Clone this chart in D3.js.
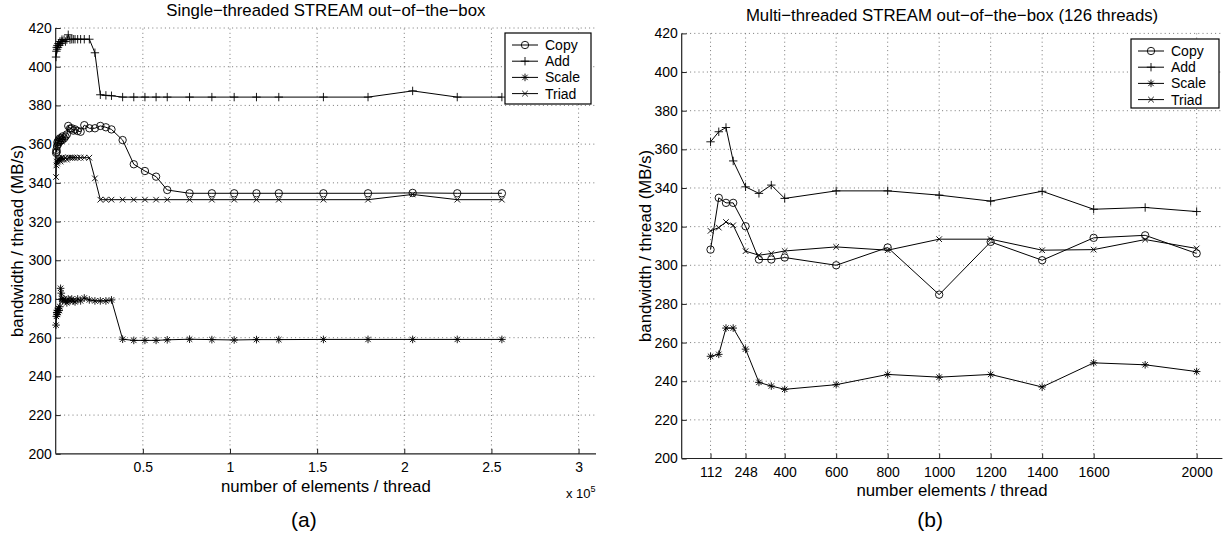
<!DOCTYPE html>
<html><head><meta charset="utf-8">
<script src="https://cdn.jsdelivr.net/npm/d3@7"></script>
<style>
body{margin:0;background:#fff;}
text{font-family:"Liberation Sans",Arial,Helvetica,sans-serif;fill:#000;}
</style></head>
<body>
<svg id="c" width="1225" height="539"></svg>
<script>
// ---------- DATA ----------
const seriesNames = ["Copy","Add","Scale","Triad"];
const yTicks = [200,220,240,260,280,300,320,340,360,380,400,420];

// (a) single-threaded: number of elements / thread
const leftX = [200,400,600,800,1000,1300,1600,2000,2400,2800,3200,3600,4000,4800,5600,6400,
  7200,8200,9200,10100,11100,12600,14300,16400,19300,22500,25600,28800,32000,38400,44800,51200,57600,64000,
  76800,89600,102400,115200,128000,153600,179200,204800,230400,256000];
const leftCopy = [355.5,357,356,359,361,360,362,361,363,362,363,362,364,363,364,365,
  369.4,368,368.2,367,367.6,366.8,366.4,369.8,368.2,368.2,369.4,368.7,367.6,362.1,349.6,346.1,343.2,336.3,
  334.6,334.6,334.6,334.6,334.6,334.6,334.6,334.8,334.6,334.6];
const leftAdd = [405,408,410,409,411,410,412,411,413,412,413,414,413,414,413,414,
  416.5,414,414.2,414.2,414.2,414.2,414.2,414.2,414.2,407.2,385.5,385.2,385,384.3,384.3,384.3,384.3,384.3,
  384.3,384.3,384.3,384.3,384.3,384.3,384.3,387.5,384.3,384.3];
const leftScale = [266.5,271,273,272,274,273,275,274,276,285.5,283,280,279,280,279,278,
  280,279,280,279,278.5,280,279,280.5,279.5,279,279,279,279.5,259.2,258.6,258.6,258.6,258.9,
  259.2,259,258.8,259,259,259.1,259.1,259.1,259.1,259.1];
const leftTriad = [343,349,351,350,352,351,352,353,352,351,353,352,353,352,353,352,
  353,353,353,353,353,353,353,353,353,342.3,331.3,331.3,331.3,331.3,331.3,331.3,331.3,331.3,
  331.3,331.3,331.3,331.3,331.3,331.3,331.3,334,331.3,331.3];
const leftXTicks = [50000,100000,150000,200000,250000,300000];

// (b) multi-threaded (126 threads)
const rightX = [112,144,172,200,248,300,348,400,600,800,1000,1200,1400,1600,1800,2000];
const rightCopy  = [308.1,334.9,332.3,332.3,320.2,303.0,303.0,304.0,300.0,309.2,284.8,312.1,302.6,314.2,315.5,306.1];
const rightAdd   = [363.9,369.1,371.3,354.0,340.6,337.2,341.5,334.6,338.5,338.5,336.3,333.2,338.3,329.0,329.9,327.8];
const rightScale = [252.9,253.9,267.5,267.5,256.6,239.4,237.5,235.8,238.2,243.5,242.1,243.5,237.0,249.5,248.5,245.0];
const rightTriad = [317.8,319.5,322.4,320.7,307.3,305.2,306.1,307.4,309.5,307.8,313.5,313.5,307.8,308.1,313.3,308.7];
const rightXTicks = [112,248,400,600,800,1000,1200,1400,1600,2000];

// ---------- DRAW ----------
const svg = d3.select("#c");
const markers = {
  Copy:  "M3.7,0A3.7,3.7 0 1,1 -3.7,0A3.7,3.7 0 1,1 3.7,0Z",
  Add:   "M-4.2,0H4.2M0,-4.2V4.2",
  Scale: "M-3.8,0H3.8M0,-3.8V3.8M-2.7,-2.7L2.7,2.7M-2.7,2.7L2.7,-2.7",
  Triad: "M-2.8,-2.8L2.8,2.8M-2.8,2.8L2.8,-2.8"
};
const LABEL_FS = 16.8;

function panel(cfg){
  const g = svg.append("g");
  const x = d3.scaleLinear().domain(cfg.xDomain).range(cfg.xRange);
  const y = d3.scaleLinear().domain([200,420]).range(cfg.yRange);
  const [x0,x1] = cfg.xRange, [yb,yt] = cfg.yRange;

  // grid
  const grid = g.append("g").attr("stroke","#555").attr("stroke-width",0.8).attr("stroke-dasharray","1,3.2");
  grid.selectAll(".gy").data(yTicks.filter(v=>v>200)).join("line")
    .attr("x1",x0).attr("x2",x1).attr("y1",d=>y(d)).attr("y2",d=>y(d));
  grid.selectAll(".gx").data(cfg.xTicks).join("line")
    .attr("x1",d=>x(d)).attr("x2",d=>x(d)).attr("y1",yb).attr("y2",yt);

  // axes
  const ay = g.append("g").attr("transform",`translate(${x0},0)`)
    .call(d3.axisLeft(y).tickValues(yTicks).tickSizeInner(-5).tickSizeOuter(0).tickPadding(3.8));
  const ax = g.append("g").attr("transform",`translate(0,${yb})`)
    .call(d3.axisBottom(x).tickValues(cfg.xTicks).tickFormat(cfg.fmt).tickSizeInner(-5).tickSizeOuter(0).tickPadding(8.5));
  [ay,ax].forEach(a=>{
    a.selectAll("path.domain").attr("stroke","#222").attr("stroke-width",1.2);
    a.selectAll(".tick line").attr("stroke","#222");
    a.selectAll("text").attr("font-size",14).attr("font-family","Liberation Sans, Arial, sans-serif").attr("fill","#000");
  });
  ax.select("path.domain").attr("d",`M${x0},0H${x1}`);
  ay.select("path.domain").attr("d",`M0,${yb}V${yt}`);

  // series
  const line = d3.line().x(d=>x(d[0])).y(d=>y(d[1]));
  cfg.series.forEach((vals,i)=>{
    const name = seriesNames[i];
    const pts = cfg.xs.map((xv,j)=>[xv,vals[j]]);
    g.append("path").datum(pts).attr("d",line).attr("fill","none").attr("stroke","#000").attr("stroke-width",1);
    g.append("g").selectAll("path").data(pts).join("path")
      .attr("transform",d=>`translate(${x(d[0])},${y(d[1])})`)
      .attr("d",markers[name]).attr("fill","none").attr("stroke","#000").attr("stroke-width",0.9);
  });

  // title & labels
  g.append("text").attr("x",(x0+x1)/2).attr("y",yt-12).attr("text-anchor","middle").attr("font-size",LABEL_FS).text(cfg.title);
  g.append("text").attr("x",(x0+x1)/2).attr("y",yb+37.8).attr("text-anchor","middle").attr("font-size",LABEL_FS).text(cfg.xlabel);
  g.append("text").attr("transform",`translate(${cfg.ylabX},${(yb+yt)/2}) rotate(-90)`)
    .attr("text-anchor","middle").attr("font-size",LABEL_FS).text("bandwidth / thread (MB/s)");

  // legend
  const L = cfg.legend;
  const lg = g.append("g").attr("transform",`translate(${L.x},${L.y})`);
  lg.append("rect").attr("width",L.w).attr("height",L.h).attr("fill","#fff").attr("stroke","#000").attr("stroke-width",1.2);
  seriesNames.forEach((n,i)=>{
    const yy = 12 + i*16.2;
    lg.append("line").attr("x1",7).attr("x2",33).attr("y1",yy).attr("y2",yy).attr("stroke","#000");
    lg.append("path").attr("transform",`translate(20,${yy})`).attr("d",markers[n]).attr("fill","none").attr("stroke","#000").attr("stroke-width",0.9);
    lg.append("text").attr("x",40).attr("y",yy+5).attr("font-size",14).text(n);
  });

  // caption
  g.append("text").attr("x",(x0+x1)/2-22).attr("y",527).attr("text-anchor","middle")
    .attr("font-family","Liberation Serif, Times New Roman, serif").attr("font-size",21).text(cfg.caption);
  return {g,x,y};
}

const A = panel({
  xDomain:[0,310000], xRange:[55.7,596], yRange:[453.8,28],
  xTicks:leftXTicks, fmt:d=>String(d/1e5), xs:leftX,
  series:[leftCopy,leftAdd,leftScale,leftTriad],
  title:"Single\u2212threaded STREAM out\u2212of\u2212the\u2212box",
  xlabel:"number of elements / thread", ylabX:23,
  legend:{x:505,y:33,w:86,h:71}, caption:"(a)"
});
// exponent
const ex = A.g.append("text").attr("x",566).attr("y",498).attr("font-size",13);
ex.append("tspan").text("x 10");
ex.append("tspan").attr("dy",-6).attr("font-size",9).text("5");

panel({
  xDomain:[0,2100], xRange:[681.7,1222.4], yRange:[458.5,33.4],
  xTicks:rightXTicks, fmt:d=>String(d), xs:rightX,
  series:[rightCopy,rightAdd,rightScale,rightTriad],
  title:"Multi\u2212threaded STREAM out\u2212of\u2212the\u2212box (126 threads)",
  xlabel:"number elements / thread", ylabX:651,
  legend:{x:1131,y:39,w:88,h:69}, caption:"(b)"
});
</script>
</body></html>
